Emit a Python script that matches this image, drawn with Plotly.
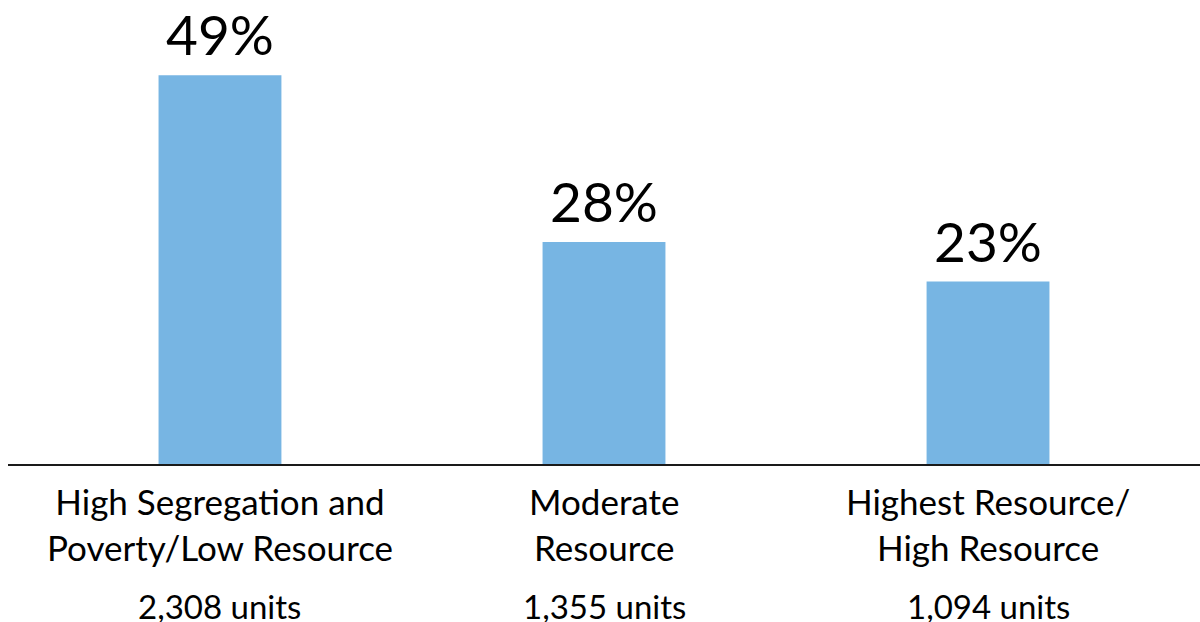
import plotly.graph_objects as go

categories = ["High Segregation and<br>Poverty/Low Resource", "Moderate<br>Resource", "Highest Resource/<br>High Resource"]
shares = [49, 28, 23]
pct_labels = ["49%", "28%", "23%"]
units = ["2,308 units", "1,355 units", "1,094 units"]

FONT = "Lato"
xs = list(range(len(categories)))

fig = go.Figure()
fig.add_trace(go.Bar(x=xs, y=shares, width=0.32, marker=dict(color="#77B5E3", line=dict(width=0)),
                     hoverinfo="skip"))

for i, (v, t) in enumerate(zip(shares, pct_labels)):
    fig.add_annotation(x=i, y=v, text=t, showarrow=False, yanchor="bottom", yshift=6,
                       font=dict(family=FONT, size=55, color="#000"))
for i, c in enumerate(categories):
    fig.add_annotation(x=i, y=0, yref="paper", text=c, showarrow=False, yanchor="top", yshift=-14,
                       font=dict(family=FONT, size=35, color="#000"))
for i, u in enumerate(units):
    fig.add_annotation(x=i, y=0, yref="paper", text=u, showarrow=False, yanchor="middle", yshift=-142,
                       font=dict(family=FONT, size=33, color="#000"))

fig.update_layout(
    width=1200, height=622,
    margin=dict(l=8, r=0, t=0, b=158),
    paper_bgcolor="white", plot_bgcolor="white",
    showlegend=False,
    xaxis=dict(range=[-0.552, 2.552], showticklabels=False, showgrid=False, zeroline=False,
               showline=True, linecolor="#1a1a1a", linewidth=2, ticks=""),
    yaxis=dict(range=[0, 58.5], visible=False, showgrid=False, zeroline=False),
)
fig.write_html("out.html")
